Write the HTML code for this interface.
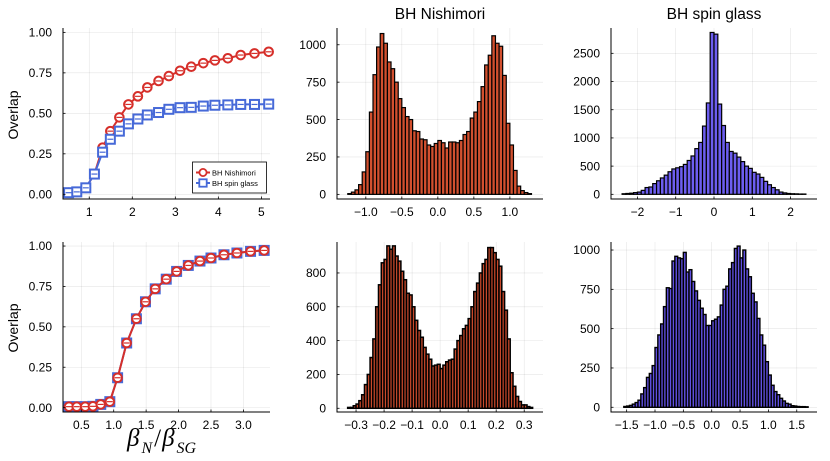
<!DOCTYPE html>
<html><head><meta charset="utf-8"><style>
html,body{margin:0;padding:0;background:#fff;}
svg{display:block;font-family:"Liberation Sans","DejaVu Sans",sans-serif;}
</style></head><body>
<svg id="fig" width="830" height="461" viewBox="0 0 830 461" xmlns="http://www.w3.org/2000/svg"></svg>
<script>
// ---------- data ----------
const aXBlue = [0.52,0.71,0.92,1.12,1.31,1.49,1.70,1.91,2.13,2.35,2.61,2.85,3.11,3.37,3.65,3.92,4.22,4.52,4.84,5.17];
const aYBlue = [0.01,0.015,0.04,0.125,0.26,0.34,0.39,0.435,0.465,0.49,0.505,0.525,0.535,0.537,0.545,0.55,0.552,0.555,0.555,0.557];
const aXRed  = [0.52,0.71,0.92,1.12,1.31,1.49,1.70,1.91,2.13,2.35,2.61,2.85,3.11,3.37,3.65,3.92,4.22,4.52,4.84,5.17];
const aYRed  = [0.01,0.015,0.04,0.125,0.288,0.39,0.475,0.555,0.605,0.66,0.70,0.73,0.763,0.788,0.81,0.827,0.84,0.86,0.87,0.88];
const dX     = [0.31,0.43,0.56,0.68,0.80,0.94,1.06,1.20,1.35,1.49,1.64,1.81,1.97,2.15,2.33,2.50,2.70,2.90,3.11,3.32];
const dYRed  = [0.006,0.006,0.006,0.008,0.02,0.037,0.185,0.40,0.55,0.655,0.735,0.795,0.843,0.88,0.907,0.926,0.946,0.957,0.967,0.973];
const dYBlue = [0.006,0.006,0.006,0.008,0.02,0.037,0.185,0.40,0.55,0.655,0.735,0.795,0.843,0.88,0.907,0.926,0.946,0.957,0.967,0.973];
const bStart = -1.25, bWidth = 0.05;
const bCounts = [5,15,30,65,150,285,550,800,985,1075,1010,885,840,750,640,580,520,500,425,420,370,365,330,320,340,360,345,310,350,350,345,360,400,420,510,550,620,720,865,930,1060,1010,990,795,475,330,160,55,25,12,5];
const cStart = -2.4, cWidth = 0.1;
const cCounts = [10,15,20,30,40,70,120,130,190,240,290,340,400,450,470,490,530,600,680,810,920,1210,1620,2870,2840,1600,1220,920,760,730,660,580,500,460,390,360,300,230,170,120,80,40,25,15,10,8,5,5];
const eStart = -0.33, eWidth = 0.01;
const eCounts = [5,5,15,25,45,80,140,200,300,410,600,730,860,880,960,940,960,900,870,810,760,680,670,600,520,460,420,360,320,290,250,255,260,235,255,275,285,290,350,400,430,470,490,530,600,690,740,800,855,880,950,950,920,880,840,690,580,410,210,130,70,40,20,20,10,5];
const fStart = -1.55, fWidth = 0.05;
const fCounts = [5,8,12,20,30,45,85,125,190,215,265,380,460,530,640,760,755,930,960,950,945,985,860,875,800,740,680,630,590,520,520,550,560,575,650,750,770,880,920,1010,1025,950,1000,880,830,725,670,565,460,395,290,205,140,100,80,57,40,25,20,10,8,5,4,4,3];
const aXTicks = [1,2,3,4,5];
const lineYTicks = [0,0.25,0.5,0.75,1.0];
const dXTicks = [0.5,1.0,1.5,2.0,2.5,3.0];
const bXTicks = [-1.0,-0.5,0.0,0.5,1.0];
const bYTicks = [0,250,500,750,1000];
const cXTicks = [-2,-1,0,1,2];
const cYTicks = [0,500,1000,1500,2000,2500];
const eXTicks = [-0.3,-0.2,-0.1,0.0,0.1,0.2,0.3];
const eYTicks = [0,200,400,600,800];
const fXTicks = [-1.5,-1.0,-0.5,0.0,0.5,1.0,1.5];
const fYTicks = [0,250,500,750,1000];

// ---------- drawing ----------
const NS = "http://www.w3.org/2000/svg";
const svg = document.getElementById('fig');
function mk(tag, attrs, parent){
  const e = document.createElementNS(NS, tag);
  for (const k in attrs) e.setAttribute(k, attrs[k]);
  (parent||svg).appendChild(e);
  return e;
}
function fmt(v, d){ const s = v.toFixed(d); return s.replace('-', '\u2212'); }

function panel(name, box, xr, yr, xt, yt, xd, yd){
  const g = mk('g', {});
  
  
  const sx = v => box.l + (v - xr[0]) / (xr[1] - xr[0]) * (box.r - box.l);
  const sy = v => box.b - (v - yr[0]) / (yr[1] - yr[0]) * (box.b - box.t);
  xt.forEach(v => {
    const l = mk('line', {x1:sx(v), x2:sx(v), y1:box.t, y2:box.b, stroke:'#000', 'stroke-opacity':0.1, 'stroke-width':0.6}, g);
    
    
  });
  yt.forEach(v => {
    const l = mk('line', {x1:box.l, x2:box.r, y1:sy(v), y2:sy(v), stroke:'#000', 'stroke-opacity':0.1, 'stroke-width':0.6}, g);
    
    
  });
  const plot = mk('g', {}, g);
  
  
  const ax = mk('path', {d:`M${box.l},${box.t}V${box.b}H${box.r}`, fill:'none', stroke:'#000', 'stroke-width':1}, g);
  
  
  xt.forEach(v => {
    mk('line', {x1:sx(v), x2:sx(v), y1:box.b, y2:box.b-2.5, stroke:'#000', 'stroke-width':0.8}, g);
    const t = mk('text', {x:sx(v), y:box.b+17, 'text-anchor':'middle', 'font-size':12, fill:'#000'}, g);
    t.textContent = fmt(v, xd);
    
    
  });
  yt.forEach(v => {
    mk('line', {x1:box.l, x2:box.l+2.5, y1:sy(v), y2:sy(v), stroke:'#000', 'stroke-width':0.8}, g);
    const t = mk('text', {x:box.l-11, y:sy(v)+4.2, 'text-anchor':'end', 'font-size':12, fill:'#000'}, g);
    t.textContent = fmt(v, yd);
    
    
  });
  g.appendChild(ax);
  return {sx, sy, g: plot};
}

function hist(p, start, w, counts, fill, name, sw){
  counts.forEach((c, i) => {
    const x0 = p.sx(start + i*w), x1 = p.sx(start + (i+1)*w);
    const r = mk('rect', {x:x0, y:p.sy(c), width:x1-x0, height:p.sy(0)-p.sy(c), fill:fill, stroke:'#000', 'stroke-width':sw||1.2}, p.g);
    
    
  });
}

function series(p, xs, ys, color, marker, name){
  const pts = xs.map((x,i) => `${p.sx(x).toFixed(1)},${p.sy(ys[i]).toFixed(1)}`).join(' ');
  const pl = mk('polyline', {points:pts, fill:'none', stroke:color, 'stroke-width':2}, p.g);
  
  
  xs.forEach((x,i) => {
    const cx = p.sx(x), cy = p.sy(ys[i]);
    let m;
    if (marker === 'circle') m = mk('circle', {cx:cx, cy:cy, r:4.3, fill:'#fff', stroke:color, 'stroke-width':2}, p.g);
    else m = mk('rect', {x:cx-4.5, y:cy-4.5, width:9, height:9, fill:'#fff', stroke:color, 'stroke-width':2}, p.g);
    
    
    mk('line', {x1:cx-3, x2:cx+3, y1:cy, y2:cy, stroke:color, 'stroke-width':1.2}, p.g);
  });
}

const RED = '#d62f2a', BLUE = '#4669d8';

const pA = panel('overlap-top-panel', {l:63,r:270,t:28,b:199}, [0.39,5.2], [-0.029,1.027], aXTicks, lineYTicks, 0, 2);
series(pA, aXRed, aYRed, RED, 'circle', 'bh-nishimori');
series(pA, aXBlue, aYBlue, BLUE, 'square', 'bh-spin-glass');
const lg = mk('g', {});


mk('rect', {x:192.5, y:162, width:74, height:31, fill:'#fff', stroke:'#000', 'stroke-width':0.8}, lg);
mk('line', {x1:196, x2:210, y1:172.5, y2:172.5, stroke:RED, 'stroke-width':2}, lg);
mk('circle', {cx:203, cy:172.5, r:3.6, fill:'#fff', stroke:RED, 'stroke-width':1.8}, lg);
mk('line', {x1:196, x2:210, y1:183, y2:183, stroke:BLUE, 'stroke-width':2}, lg);
mk('rect', {x:199.3, y:179.3, width:7.4, height:7.4, fill:'#fff', stroke:BLUE, 'stroke-width':1.8}, lg);
const l1 = mk('text', {x:212, y:175.5, 'font-size':7.5}, lg); l1.textContent = 'BH Nishimori';


const l2 = mk('text', {x:212, y:186, 'font-size':7.5}, lg); l2.textContent = 'BH spin glass';



const pD = panel('overlap-bottom-panel', {l:63,r:270,t:242,b:412}, [0.218,3.41], [-0.027,1.025], dXTicks, lineYTicks, 1, 2);
series(pD, dX, dYBlue, BLUE, 'square', 'bh-spin-glass');
series(pD, dX, dYRed, RED, 'circle', 'bh-nishimori');

const pB = panel('nishimori-hist-top', {l:337,r:543,t:28,b:199}, [-1.40,1.46], [-31,1112], bXTicks, bYTicks, 1, 0);
hist(pB, bStart, bWidth, bCounts, '#d2502f', 'hist-bar');
const pC = panel('spin-glass-hist-top', {l:611,r:817,t:28,b:199}, [-2.69,2.69], [-83,2949], cXTicks, cYTicks, 0, 0);
hist(pC, cStart, cWidth, cCounts, '#6d5ef0', 'hist-bar');
const pE = panel('nishimori-hist-bottom', {l:337,r:543,t:242,b:412}, [-0.368,0.367], [-22,983], eXTicks, eYTicks, 1, 0);
hist(pE, eStart, eWidth, eCounts, '#c8492b', 'hist-bar', 1.5);
const pF = panel('spin-glass-hist-bottom', {l:611,r:817,t:242,b:412}, [-1.776,1.857], [-30,1051], fXTicks, fYTicks, 1, 0);
hist(pF, fStart, fWidth, fCounts, '#6050e0', 'hist-bar', 1.4);

function txt(s, attrs, name){
  const t = mk('text', attrs); t.textContent = s;
  
  
  return t;
}
txt('BH Nishimori', {x:440, y:19, 'text-anchor':'middle', 'font-size':15.5}, 'title-nishimori');
txt('BH spin glass', {x:714, y:19, 'text-anchor':'middle', 'font-size':15.5}, 'title-spin-glass');
txt('Overlap', {x:0, y:0, transform:'translate(18,115) rotate(-90)', 'text-anchor':'middle', 'font-size':14}, 'y-axis-title-top');
txt('Overlap', {x:0, y:0, transform:'translate(18,328) rotate(-90)', 'text-anchor':'middle', 'font-size':14}, 'y-axis-title-bottom');
const xl = mk('text', {x:127, y:446, 'font-family':'"Liberation Serif","DejaVu Serif",serif', 'font-style':'italic', 'font-size':25});


xl.innerHTML = '<tspan>β</tspan><tspan dx="2" dy="7" font-size="16">N</tspan><tspan dx="2" dy="-7" font-style="normal">/</tspan><tspan dx="1">β</tspan><tspan dx="2" dy="7" font-size="16">SG</tspan>';
</script>
</body></html>
